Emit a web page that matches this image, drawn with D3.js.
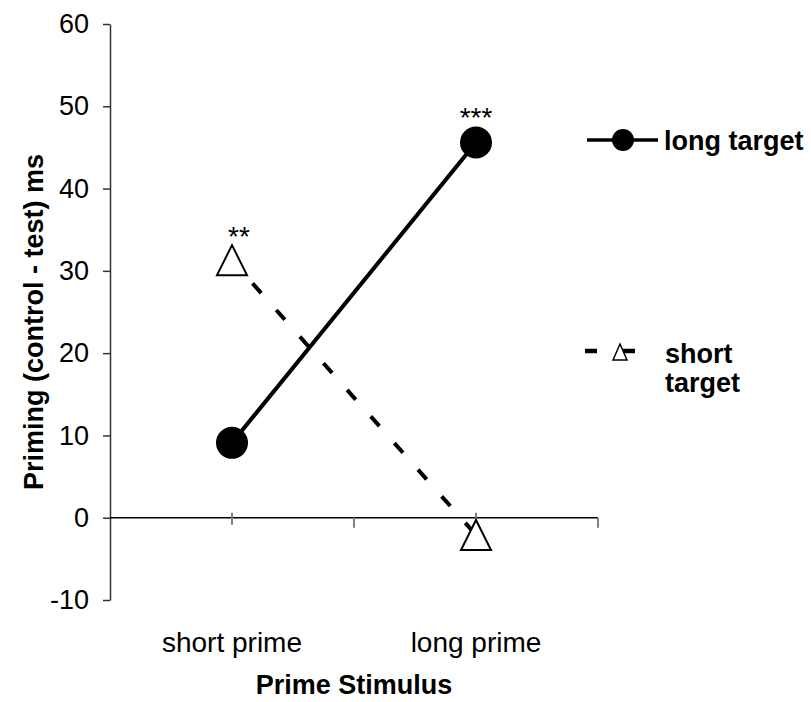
<!DOCTYPE html>
<html>
<head>
<meta charset="utf-8">
<script src="https://cdn.jsdelivr.net/npm/d3@7"></script>
<style>
  body { margin: 0; background: #fff; }
  svg { display: block; }
  text { font-family: "Liberation Sans", Arial, sans-serif; }
</style>
</head>
<body>
<svg id="chart" width="811" height="702"></svg>
<script>
// Priming effect (control - test, ms) by prime stimulus, for long and short targets
const categories = ["short prime", "long prime"];
const longTarget = [9.1, 45.6];
const shortTarget = [31.3, -2.1];
const longTargetStars = ["", "***"];
const shortTargetStars = ["**", ""];
const yTicks = [-10, 0, 10, 20, 30, 40, 50, 60];
const seriesNames = ["long target", "short target"];

const svg = d3.select("#chart");
const FONT = 28;

const x = d3.scaleBand().domain(categories).range([110, 598]).padding(0);
const cx = c => x(c) + x.bandwidth() / 2;
const y = d3.scaleLinear().domain([-10, 60]).range([600, 24]);

// y axis
const yAxis = svg.append("g")
  .attr("transform", "translate(110,0)")
  .call(d3.axisLeft(y).tickValues(yTicks).tickSize(7).tickSizeOuter(0).tickPadding(14)
    .tickFormat(d => String(d)));
yAxis.select(".domain").attr("stroke", "#333").attr("stroke-width", 1.5);
yAxis.selectAll(".tick line").attr("stroke", "#333").attr("stroke-width", 1.5);
yAxis.selectAll(".tick text")
  .attr("font-size", FONT - 1).attr("fill", "#000")
  .style("font-family", "'Liberation Sans', Arial, sans-serif");

// x axis along zero
const y0 = y(0);
svg.append("line")
  .attr("x1", x.range()[0]).attr("x2", x.range()[1])
  .attr("y1", y0).attr("y2", y0)
  .attr("stroke", "#000").attr("stroke-width", 1.5);

// boundary ticks (below the axis)
const boundaries = categories.slice(1).map(c => x(c)).concat([x.range()[1]]);
svg.selectAll("line.btick").data(boundaries).join("line")
  .attr("class", "btick")
  .attr("x1", d => d).attr("x2", d => d)
  .attr("y1", y0).attr("y2", y0 + 10)
  .attr("stroke", "#808080").attr("stroke-width", 2);

// category ticks (crossing the axis)
svg.selectAll("line.ctick").data(categories).join("line")
  .attr("class", "ctick")
  .attr("x1", d => cx(d)).attr("x2", d => cx(d))
  .attr("y1", y0 - 5).attr("y2", y0 + 7)
  .attr("stroke", "#808080").attr("stroke-width", 2);

// category labels
svg.selectAll("text.cat").data(categories).join("text")
  .attr("class", "cat")
  .attr("x", d => cx(d)).attr("y", 652)
  .attr("text-anchor", "middle").attr("font-size", FONT)
  .text(d => d);

// axis titles
svg.append("text")
  .attr("x", 354).attr("y", 694)
  .attr("text-anchor", "middle").attr("font-size", FONT - 1).attr("font-weight", "bold")
  .text("Prime Stimulus");

svg.append("text")
  .attr("transform", "translate(43,322) rotate(-90)")
  .attr("text-anchor", "middle").attr("font-size", FONT - 1).attr("font-weight", "bold")
  .text("Priming (control - test) ms");

// series
const longPts = categories.map((c, i) => [cx(c), y(longTarget[i])]);
const shortPts = categories.map((c, i) => [cx(c), y(shortTarget[i])]);
const line = d3.line();

svg.append("path")
  .attr("d", line(shortPts))
  .attr("fill", "none").attr("stroke", "#000").attr("stroke-width", 4)
  .attr("stroke-dasharray", "13,22.6").attr("stroke-dashoffset", 4.6);

svg.append("path")
  .attr("d", line(longPts))
  .attr("fill", "none").attr("stroke", "#000").attr("stroke-width", 4);

// triangle marker centred on its bounding box
const tri = (w, h) => `M0,${-h / 2}L${w / 2},${h / 2}L${-w / 2},${h / 2}Z`;

svg.selectAll("path.tri").data(shortPts).join("path")
  .attr("class", "tri")
  .attr("transform", d => `translate(${d[0]},${d[1]})`)
  .attr("d", tri(30, 30))
  .attr("fill", "#fff").attr("stroke", "#000").attr("stroke-width", 2);

svg.selectAll("circle.dot").data(longPts).join("circle")
  .attr("class", "dot")
  .attr("cx", d => d[0]).attr("cy", d => d[1]).attr("r", 16)
  .attr("fill", "#000");

// significance labels above markers
svg.selectAll("text.sigL").data(longPts).join("text")
  .attr("class", "sigL")
  .attr("x", d => d[0]).attr("y", d => d[1] - 15)
  .attr("text-anchor", "middle").attr("font-size", FONT)
  .text((d, i) => longTargetStars[i]);

svg.selectAll("text.sigS").data(shortPts).join("text")
  .attr("class", "sigS")
  .attr("x", d => d[0] + 7).attr("y", d => d[1] - 14)
  .attr("text-anchor", "middle").attr("font-size", FONT)
  .text((d, i) => shortTargetStars[i]);

// legend
const lg = svg.append("g");
lg.append("line").attr("x1", 587).attr("x2", 658).attr("y1", 140).attr("y2", 140)
  .attr("stroke", "#000").attr("stroke-width", 3.5);
lg.append("circle").attr("cx", 623).attr("cy", 140).attr("r", 11).attr("fill", "#000");
lg.append("text").attr("x", 664).attr("y", 150)
  .attr("font-size", FONT - 1).attr("font-weight", "bold").text(seriesNames[0]);

lg.append("path").attr("transform", "translate(620,352)").attr("d", tri(14, 16))
  .attr("fill", "#fff").attr("stroke", "#000").attr("stroke-width", 1.5);
lg.append("line").attr("x1", 585).attr("x2", 661).attr("y1", 351).attr("y2", 351)
  .attr("stroke", "#000").attr("stroke-width", 4.5)
  .attr("stroke-dasharray", "12,26");
const st = lg.append("text").attr("x", 665).attr("y", 363)
  .attr("font-size", FONT - 1).attr("font-weight", "bold");
seriesNames[1].split(" ").forEach((w, i) => {
  st.append("tspan").attr("x", 665).attr("dy", i ? 29 : 0).text(w);
});
</script>
</body>
</html>
